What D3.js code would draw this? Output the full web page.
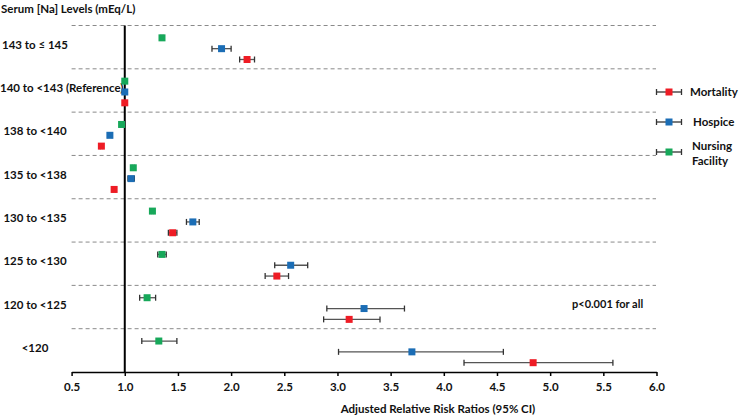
<!DOCTYPE html>
<html><head><meta charset="utf-8">
<script src="https://cdn.jsdelivr.net/npm/d3@7"></script>
<style>
html,body{margin:0;padding:0;background:#fff;}
text{font-family:Lato,"Open Sans",sans-serif;font-weight:bold;fill:#111;}
</style></head>
<body><svg id="chart" width="740" height="416"></svg>
<script>
const categories = ["143 to ≤ 145","140 to <143 (Reference)","138 to <140","135 to <138","130 to <135","125 to <130","120 to <125","<120"];
const seriesNames = ["Mortality","Hospice","Nursing Facility"];
const mortality   = [2.15,1.00,0.78,0.90,1.45,2.43,3.11,4.84];
const mortalityLo = [2.08,1.00,0.77,0.89,1.41,2.32,2.87,4.19];
const mortalityHi = [2.22,1.00,0.79,0.91,1.49,2.54,3.40,5.59];
const hospice     = [1.91,1.00,0.86,1.06,1.64,2.56,3.25,3.70];
const hospiceLo   = [1.82,1.00,0.84,1.03,1.58,2.41,2.90,3.01];
const hospiceHi   = [2.00,1.00,0.88,1.09,1.70,2.72,3.63,4.56];
const nursing     = [1.35,1.00,0.97,1.08,1.26,1.35,1.21,1.32];
const nursingLo   = [1.34,1.00,0.96,1.07,1.25,1.31,1.14,1.16];
const nursingHi   = [1.36,1.00,0.98,1.09,1.27,1.39,1.29,1.49];
const xTicks = [0.5,1.0,1.5,2.0,2.5,3.0,3.5,4.0,4.5,5.0,5.5,6.0];
const colors = {"Mortality":"#ee1c25","Hospice":"#1b6db5","Nursing Facility":"#17a85a"};

const svg = d3.select("#chart");
const FS = 11.5;
const x = d3.scaleLinear().domain([0.5,6.0]).range([71.6,656.5]);
const y = d3.scaleBand().domain(categories).range([25.5,372]);
const within = d3.scalePoint().domain(["Nursing Facility","Hospice","Mortality"]).range([0,y.bandwidth()]).padding(1).align(0.57);

const series = [
  {name:"Nursing Facility", v:nursing, lo:nursingLo, hi:nursingHi},
  {name:"Hospice", v:hospice, lo:hospiceLo, hi:hospiceHi},
  {name:"Mortality", v:mortality, lo:mortalityLo, hi:mortalityHi}
];

// dashed separators
const seps = categories.map(c=>y(c));
svg.append("g").selectAll("line").data(seps).join("line")
  .attr("x1",71.6).attr("x2",656).attr("y1",d=>d).attr("y2",d=>d)
  .attr("stroke","#8a8a8a").attr("stroke-width",1).attr("stroke-dasharray","4,3");

// reference line
svg.append("line").attr("x1",x(1)).attr("x2",x(1)).attr("y1",y.range()[0]).attr("y2",y.range()[1])
  .attr("stroke","#000").attr("stroke-width",2);

// axis
const axis = d3.axisBottom(x).tickValues(xTicks).tickFormat(d3.format(".1f")).tickSize(4).tickSizeOuter(0);
const ga = svg.append("g").attr("transform",`translate(0,${y.range()[1]})`).call(axis);
ga.select(".domain").attr("stroke","#000").attr("stroke-width",1.5);
ga.selectAll(".tick line").attr("stroke","#000").attr("stroke-width",1.5);
ga.selectAll(".tick text").attr("font-size",FS).attr("font-family","Lato,sans-serif").attr("font-weight","bold").attr("fill","#111").attr("y",11).attr("dy","0.71em");

svg.append("text").attr("x",438).attr("y",413).attr("text-anchor","middle").attr("font-size",FS)
  .text("Adjusted Relative Risk Ratios (95% CI)");

// title
svg.append("text").attr("x",1).attr("y",13).attr("font-size",FS).text("Serum [Na] Levels (mEq/L)");

// category labels
const cl = svg.append("g").selectAll("text").data(categories).join("text")
  .attr("font-size",FS).attr("text-anchor","middle")
  .attr("y",d=>y(d)+y.bandwidth()/2+1.5)
  .text(d=>d);
cl.attr("x",function(){const w=this.getComputedTextLength();return Math.max(35,w/2);});

// points with error bars
series.forEach(s=>{
  const g = svg.append("g");
  categories.forEach((c,i)=>{
    const cy = y(c)+within(s.name);
    if (s.hi[i]-s.lo[i] > 0.001) {
      g.append("line").attr("x1",x(s.lo[i])).attr("x2",x(s.hi[i])).attr("y1",cy).attr("y2",cy).attr("stroke","#555").attr("stroke-width",1.3);
      [s.lo[i],s.hi[i]].forEach(v=>g.append("line").attr("x1",x(v)).attr("x2",x(v)).attr("y1",cy-3).attr("y2",cy+3).attr("stroke","#333").attr("stroke-width",1.3));
    }
    g.append("rect").attr("x",x(s.v[i])-3.5).attr("y",cy-3.5).attr("width",7).attr("height",7).attr("fill",colors[s.name]);
  });
});

// p-value note
svg.append("text").attr("x",572).attr("y",308).attr("font-size",11).text("p<0.001 for all");

// legend
const legY = [92,122,152];
seriesNames.forEach((n,i)=>{
  const g = svg.append("g").attr("transform",`translate(669,${legY[i]})`);
  g.append("line").attr("x1",-12.5).attr("x2",12.5).attr("stroke","#333").attr("stroke-width",1.3);
  [-12.5,12.5].forEach(v=>g.append("line").attr("x1",v).attr("x2",v).attr("y1",-3).attr("y2",3).attr("stroke","#333").attr("stroke-width",1.3));
  g.append("rect").attr("x",-3.5).attr("y",-3.5).attr("width",7).attr("height",7).attr("fill",colors[n]);
  const words = n.split(" ");
  const t = g.append("text").attr("x", i===0?21:24).attr("font-size",FS);
  if (words.length===1) t.attr("y",4).text(n);
  else words.forEach((w,k)=>t.append("tspan").attr("x",23).attr("y",-2+k*15).text(w));
});
</script></body></html>
